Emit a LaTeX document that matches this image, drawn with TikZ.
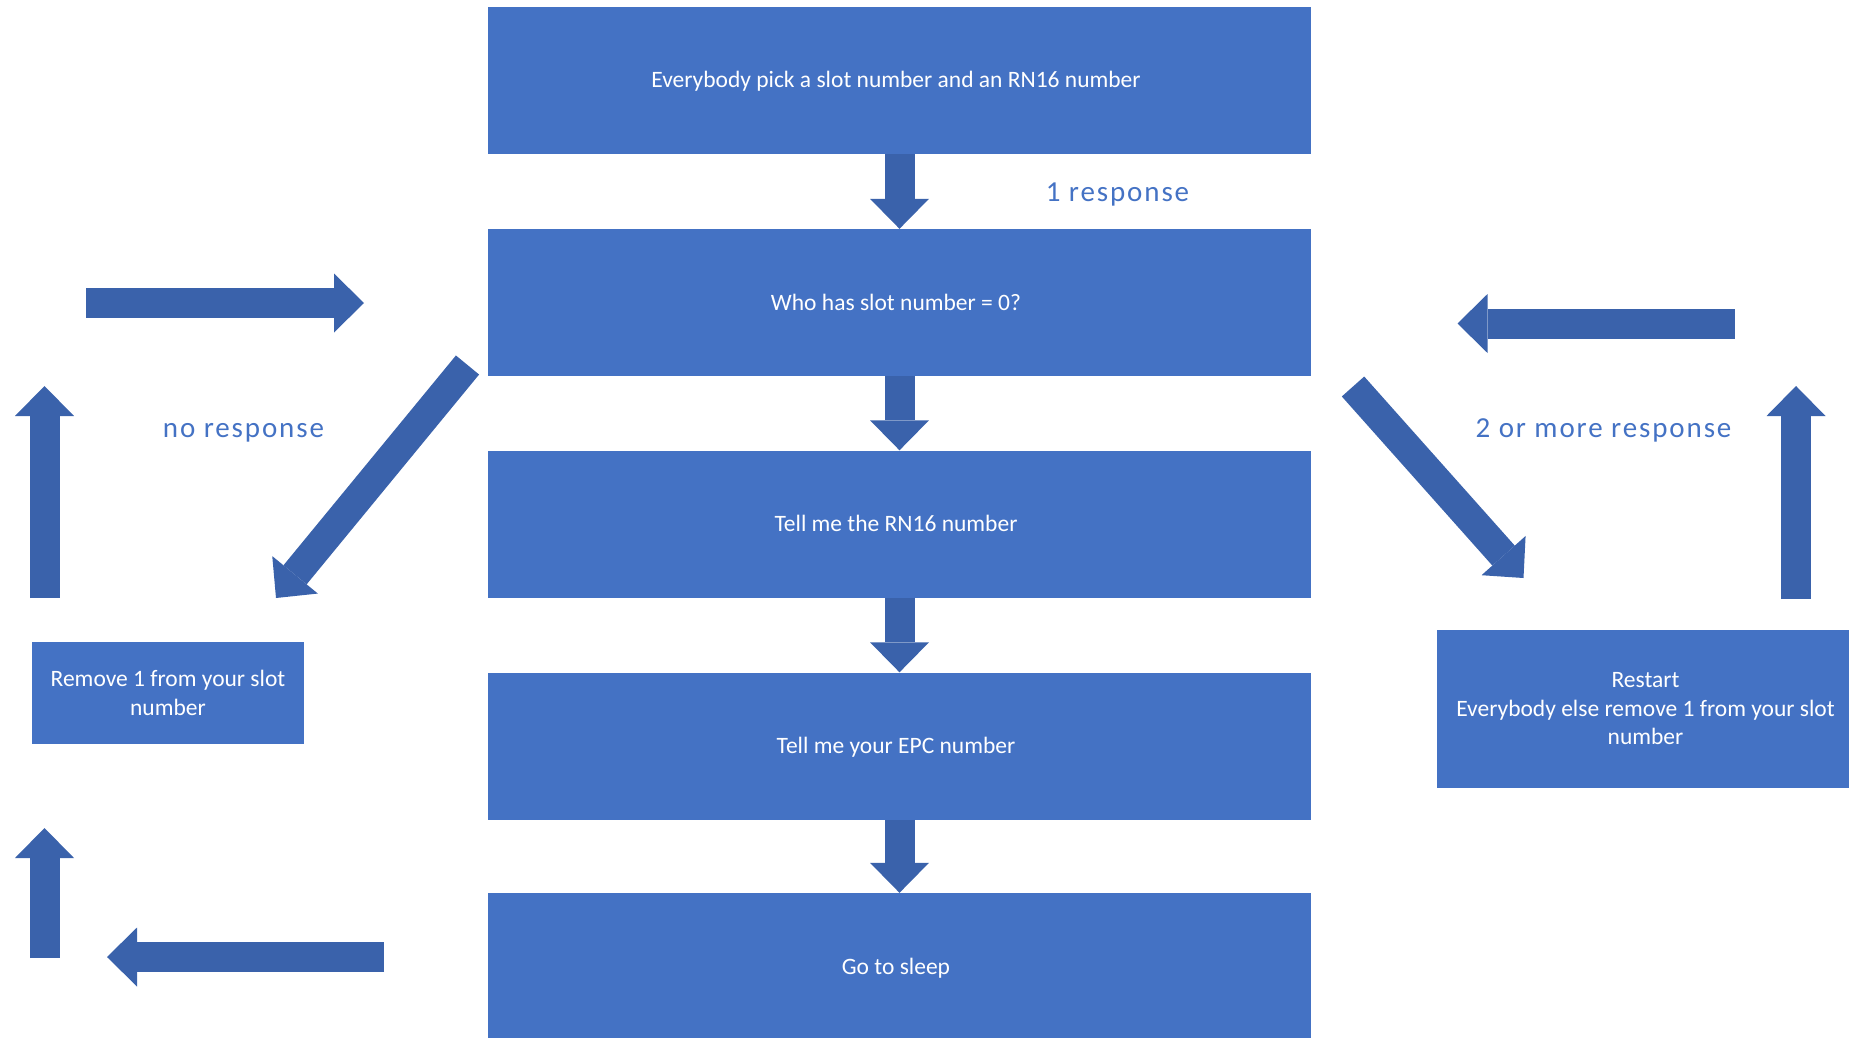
\documentclass[tikz,border=0pt]{standalone}
\usepackage{fontspec}
\setmainfont{Carlito}
\newfontfamily\labelfont{Carlito}[LetterSpace=6.5]
\usetikzlibrary{arrows.meta}
\definecolor{boxblue}{HTML}{4472C4}
\definecolor{arrowblue}{HTML}{3A62AB}
\definecolor{labelblue}{HTML}{4472C4}
\begin{document}
\begin{tikzpicture}[x=1pt,y=-1pt,line join=miter,
  box/.style={fill=boxblue,draw=none,inner sep=0pt,text=white,align=center,
    font=\fontsize{23.5}{28.5}\selectfont},
  mainbox/.style={box,minimum width=823pt,minimum height=147pt,text height=20pt,text depth=5pt,
    execute at begin node={\hspace*{-7pt}}},
  blockarrow/.style={line width=30pt,arrowblue,
    -{Triangle[length=30pt,width=59pt,line width=0pt]}},
  respons/.style={text=labelblue,inner sep=0pt,anchor=base,font=\labelfont\fontsize{29}{34}\selectfont}]
\useasboundingbox (0,0) rectangle (1849,1038);
%%
\node (1) at (899.5,80.5) [mainbox] {Everybody pick a slot number and an RN16 number};
  \node (2) at (899.5,302.5) [mainbox] {Who has slot number = 0?};
  \node (3) at (899.5,524) [mainbox] {Tell me the RN16 number};
  \node (4) at (899.5,746) [mainbox] {Tell me your EPC number};
  \node (5) at (899.5,966.5) [mainbox] {Go to sleep};
  \node (6) at (168,693) [box,minimum width=272pt,minimum height=102pt] {Remove 1 from your slot\\number};
  \node (7) at (1645.5,709) [box,minimum width=417pt,minimum height=158pt] {Restart\\Everybody else remove 1 from your slot\\number};
%%
\node (l1) at (1117.5,201.5) [respons] {1 response};
  \node (l2) at (243.5,437.5) [respons] {no response};
  \node (l3) at (1603.5,437.5) [respons] {2 or more response};
%%
\coordinate (d1) at (467.5,365);
  \coordinate (d2) at (276,598);
  \coordinate (r1) at (86,303);
  \coordinate (r2) at (364,303);
  \coordinate (u1) at (44.5,598);
  \coordinate (u2) at (44.5,386);
  \coordinate (u3) at (44.5,958);
  \coordinate (u4) at (44.5,828);
  \coordinate (b1) at (384,957);
  \coordinate (b2) at (107,957);
  \coordinate (t1) at (1734.5,323.5);
  \coordinate (t2) at (1457.5,323.5);
  \coordinate (e1) at (1353,386.5);
  \coordinate (e2) at (1523.5,578);
  \coordinate (v1) at (1796,599);
  \coordinate (v2) at (1796,386);
%%
\draw [blockarrow] (1) -- (2);
  \draw [blockarrow] (2) -- (3);
  \draw [blockarrow] (3) -- (4);
  \draw [blockarrow] (4) -- (5);
  \draw [blockarrow] (d1) -- (d2);
  \draw [blockarrow] (r1) -- (r2);
  \draw [blockarrow] (u1) -- (u2);
  \draw [blockarrow] (u3) -- (u4);
  \draw [blockarrow] (b1) -- (b2);
  \draw [blockarrow] (t1) -- (t2);
  \draw [blockarrow] (e1) -- (e2);
  \draw [blockarrow] (v1) -- (v2);
%
\end{tikzpicture}
\end{document}
